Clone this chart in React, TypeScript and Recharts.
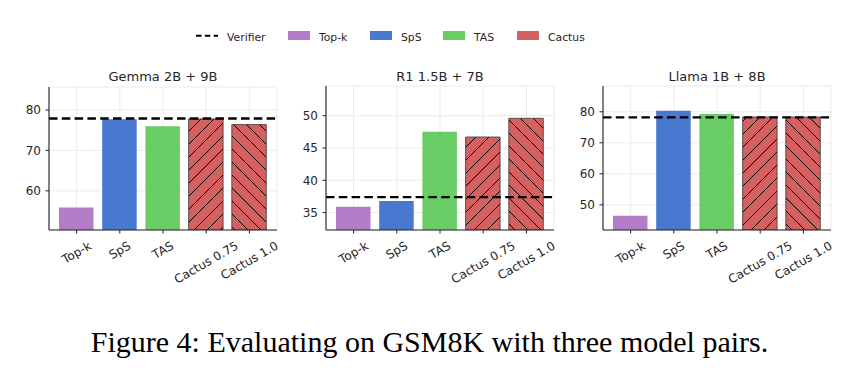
import { Bar, BarChart, CartesianGrid, Cell, ReferenceLine, XAxis, YAxis } from "recharts";

const categories = ["Top-k", "SpS", "TAS", "Cactus 0.75", "Cactus 1.0"];
const gemmaScores = [55.9, 77.7, 76.0, 77.8, 76.4];
const r1Scores = [35.9, 36.8, 47.5, 46.7, 49.6];
const llamaScores = [46.5, 80.3, 79.3, 78.3, 78.3];
const verifierScores = [77.9, 37.4, 78.2];
const panelTitles = ["Gemma 2B + 9B", "R1 1.5B + 7B", "Llama 1B + 8B"];
const yTicks = [
  [60, 70, 80],
  [35, 40, 45, 50],
  [50, 60, 70, 80],
];
const yDomains = [
  [50.3, 85.7],
  [32.3, 54.6],
  [41.9, 88.3],
];
const legendLabels = ["Verifier", "Top-k", "SpS", "TAS", "Cactus"];

const COLORS = ["#b47cc7", "#4878d0", "#6acc64", "#d65f5f", "#d65f5f"];
const FONT = '"DejaVu Sans", sans-serif';
const INK = "#262626";

// where each panel sits on the page; yWidth = room left of the plot
const panels = [
  { left: 0, width: 290, yWidth: 49, margin: { top: 27, left: 0, right: 13, bottom: 10 } },
  { left: 280, width: 290, yWidth: 46, margin: { top: 26, left: 0, right: 16, bottom: 10 } },
  { left: 570, width: 288, yWidth: 33, margin: { top: 26, left: 0, right: 27, bottom: 10 } },
];

let canvas: HTMLCanvasElement | null = null;
function textWidth(s: string, font: string) {
  if (!canvas) canvas = document.createElement("canvas");
  const ctx = canvas.getContext("2d")!;
  ctx.font = font;
  return ctx.measureText(s).width;
}

function RotatedTick(props: any) {
  const { x, y, payload } = props;
  const fs = 12;
  const w = textWidth(payload.value, `${fs}px "DejaVu Sans"`);
  const h = w * 0.5 + fs * 1.1 * 0.866;
  const cy = y + 2 + h / 2;
  return (
    <text
      x={x}
      y={cy}
      textAnchor="middle"
      dominantBaseline="central"
      transform={`rotate(-30 ${x} ${cy})`}
      fontSize={fs}
      fontFamily={FONT}
      fill={INK}
    >
      {payload.value}
    </text>
  );
}

function Panel({ idx, values }: { idx: number; values: number[] }) {
  const p = panels[idx];
  const data = categories.map((name, i) => ({ name, value: values[i] }));
  return (
    <div style={{ position: "absolute", left: p.left, top: 60 }}>
      <BarChart width={p.width} height={240} data={data} margin={p.margin} barSize={34.5}>
        <defs>
          <pattern id={`fwd${idx}`} width="13" height="13" patternUnits="userSpaceOnUse">
            <rect width="13" height="13" fill="#d65f5f" />
            <path d="M0,13 L13,0 M-3,3 L3,-3 M10,16 L16,10" stroke="#000" strokeWidth="1" />
          </pattern>
          <pattern id={`back${idx}`} width="13" height="13" patternUnits="userSpaceOnUse">
            <rect width="13" height="13" fill="#d65f5f" />
            <path d="M0,0 L13,13 M-3,10 L3,16 M10,-3 L16,3" stroke="#000" strokeWidth="1" />
          </pattern>
        </defs>
        <CartesianGrid stroke="#e6e6e6" strokeWidth={0.8} />
        <XAxis
          dataKey="name"
          height={60}
          padding={{ left: 6, right: 6 }}
          axisLine={{ stroke: "#222", strokeWidth: 1.1 }}
          tickLine={{ stroke: "#222" }}
          tickSize={3.5}
          tickMargin={3.5}
          interval={0}
          tick={<RotatedTick />}
        />
        <YAxis
          width={p.yWidth}
          type="number"
          domain={yDomains[idx]}
          ticks={yTicks[idx]}
          allowDataOverflow
          axisLine={{ stroke: "#222", strokeWidth: 1.1 }}
          tickLine={{ stroke: "#222" }}
          tickSize={3.5}
          tickMargin={4.5}
          tick={{ fontSize: 12, fill: INK, fontFamily: FONT }}
        />
        <Bar dataKey="value" isAnimationActive={false}>
          {data.map((d, i) => (
            <Cell
              key={d.name}
              fill={i === 3 ? `url(#fwd${idx})` : i === 4 ? `url(#back${idx})` : COLORS[i]}
              stroke={i >= 3 ? "#3a3a3a" : "none"}
              strokeWidth={i >= 3 ? 0.8 : 0}
            />
          ))}
        </Bar>
        <ReferenceLine y={verifierScores[idx]} stroke="#000" strokeWidth={2.3} strokeDasharray="8.5 4.3" />
      </BarChart>
    </div>
  );
}

const titleCenters = [163, 440, 717];
const legendSwatchX = [196, 288, 370, 443, 517];
const legendTextX = [227, 319, 401, 474, 548];

export default function App() {
  return (
    <div style={{ position: "absolute", left: 0, top: 0, width: 858, height: 374, background: "#fff", overflow: "hidden" }}>
      <Panel idx={0} values={gemmaScores} />
      <Panel idx={1} values={r1Scores} />
      <Panel idx={2} values={llamaScores} />
      <svg width={858} height={374} style={{ position: "absolute", left: 0, top: 0, pointerEvents: "none" }}>
        {legendLabels.map((label, i) => (
          <g key={label}>
            {i === 0 ? (
              <line x1={legendSwatchX[i]} x2={legendSwatchX[i] + 22} y1={35.7} y2={35.7} stroke="#000" strokeWidth={2} strokeDasharray="5.5 3.3" />
            ) : (
              <rect x={legendSwatchX[i]} y={31} width={22} height={9} fill={COLORS[i - 1]} />
            )}
            <text x={legendTextX[i]} y={40.5} fontSize={10.8} fontFamily={FONT} fill={INK}>
              {label}
            </text>
          </g>
        ))}
        {panelTitles.map((t, i) => (
          <text key={t} x={titleCenters[i]} y={80.5} textAnchor="middle" fontSize={13} fontFamily={FONT} fill={INK}>
            {t}
          </text>
        ))}
        <text x={429.5} y={352} textAnchor="middle" fontSize={30} fontFamily='"Liberation Serif", serif' fill="#000">
          Figure 4: Evaluating on GSM8K with three model pairs.
        </text>
      </svg>
    </div>
  );
}
